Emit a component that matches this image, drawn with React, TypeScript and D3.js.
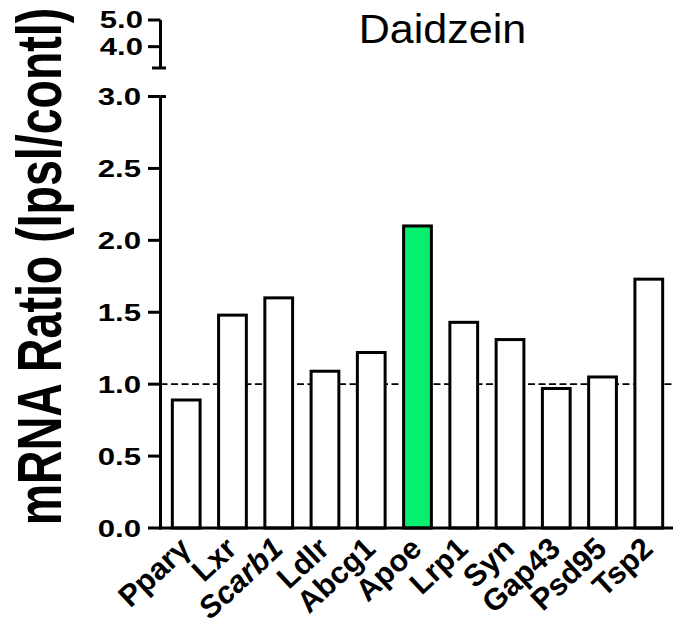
import React from "react";
import * as d3 from "d3";

const genes = ["Pparγ", "Lxr", "Scarb1", "Ldlr", "Abcg1", "Apoe", "Lrp1", "Syn", "Gap43", "Psd95", "Tsp2"];
const values = [0.89, 1.48, 1.6, 1.09, 1.22, 2.1, 1.43, 1.31, 0.97, 1.05, 1.73];
const italicGenes = ["Scarb1"];
const highlightGenes = ["Apoe"];
const lowerTicks = [0, 0.5, 1.0, 1.5, 2.0, 2.5, 3.0];
const upperTicks = [4.0, 5.0];
const referenceLine = 1.0;
const title = "Daidzein";
const yTitle = "mRNA Ratio (Ipsl/contl)";

export default function App() {
  const W = 673, H = 627;
  const axisX = 160.5;
  const x = d3.scaleBand<string>().domain(genes).range([161, 674]).paddingInner(0.4).paddingOuter(0.245);
  const y = d3.scaleLinear().domain([0, 3]).range([528, 96.5]);
  const yUp = d3.scaleLinear().domain([3.2, 5]).range([68, 20]);
  const font = "'Liberation Sans', Arial, sans-serif";
  const fmt = d3.format(".1f");
  return (
    <svg width={W} height={H} style={{ position: "absolute", left: 0, top: 0, background: "#fff" }}>
      <rect x={0} y={0} width={W} height={H} fill="#fff" />
      {/* title */}
      <text transform="translate(442.5,43) scale(1.05,1)" textAnchor="middle" fontFamily={font} fontSize={41} fill="#000">{title}</text>
      {/* y title */}
      <text transform={`translate(61,${(5 + 528) / 2}) scale(1.35,1) rotate(-90)`} textAnchor="middle" fontFamily={font} fontWeight="bold" fontSize={46.5} fill="#000">{yTitle}</text>
      {/* reference dashed line */}
      <line x1={axisX} x2={673} y1={y(referenceLine)} y2={y(referenceLine)} stroke="#000" strokeWidth={1.6} strokeDasharray="7,3.5" />
      {/* bars */}
      {genes.map((g, i) => (
        <rect key={g} x={x(g)} y={y(values[i])} width={x.bandwidth()} height={y(0) - y(values[i])}
          fill={highlightGenes.includes(g) ? "#06EF6F" : "#fff"} stroke="#000" strokeWidth={3} />
      ))}
      {/* lower y axis */}
      <line x1={axisX} x2={axisX} y1={y(3)} y2={y(0) + 1.5} stroke="#000" strokeWidth={3} />
      <line x1={axisX} x2={166} y1={y(3)} y2={y(3)} stroke="#000" strokeWidth={3} />
      {lowerTicks.map((t) => (
        <g key={t}>
          <line x1={148} x2={axisX} y1={y(t)} y2={y(t)} stroke="#000" strokeWidth={3} />
          <text transform={`translate(141,${y(t)}) scale(1.3,1)`} dy="0.36em" textAnchor="end" fontFamily={font} fontWeight="bold" fontSize={24} fill="#000">{fmt(t)}</text>
        </g>
      ))}
      {/* upper y axis segment */}
      <line x1={axisX} x2={axisX} y1={yUp(5)} y2={yUp(3.2)} stroke="#000" strokeWidth={3} />
      <line x1={152} x2={166} y1={yUp(3.2)} y2={yUp(3.2)} stroke="#000" strokeWidth={3} />
      {upperTicks.map((t) => (
        <g key={t}>
          <line x1={148} x2={axisX} y1={yUp(t)} y2={yUp(t)} stroke="#000" strokeWidth={3} />
          <text transform={`translate(143,${yUp(t)}) scale(1.35,1)`} dy="0.36em" textAnchor="end" fontFamily={font} fontWeight="bold" fontSize={23} fill="#000">{fmt(t)}</text>
        </g>
      ))}
      {/* x axis */}
      <line x1={axisX - 1.5} x2={673} y1={y(0)} y2={y(0)} stroke="#000" strokeWidth={3} />
      {genes.map((g) => {
        const cx = (x(g) as number) + x.bandwidth() / 2 + 6;
        return (
          <text key={g} transform={`translate(${cx},551) rotate(-43)`} textAnchor="end"
            fontFamily={font} fontWeight="bold" fontSize={30.5}
            fontStyle={italicGenes.includes(g) ? "italic" : "normal"} fill="#000">{g}</text>
        );
      })}
    </svg>
  );
}
